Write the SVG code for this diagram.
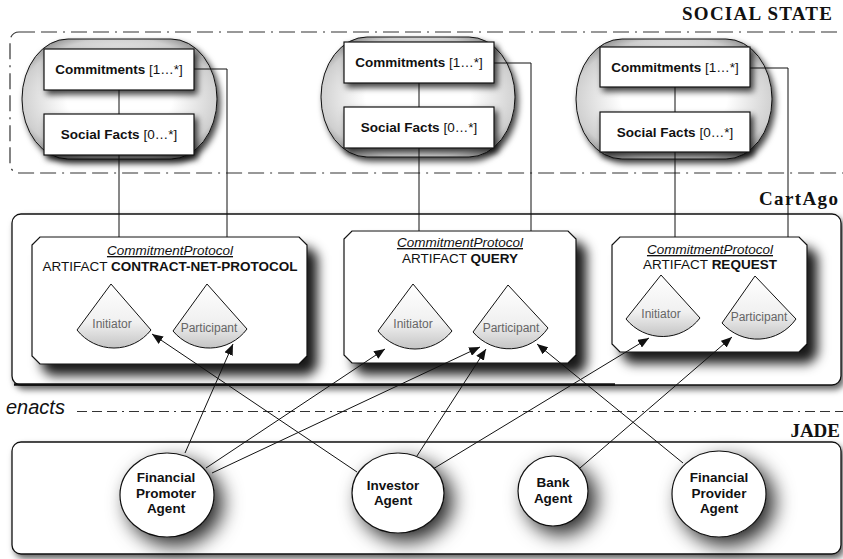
<svg xmlns="http://www.w3.org/2000/svg" width="843" height="559" viewBox="0 0 843 559">
<style>
.hdr{font-family:"Liberation Serif","Times New Roman",serif;font-weight:bold;font-size:19px;fill:#111;text-anchor:end}
.sans{font-family:"Liberation Sans",Arial,sans-serif;fill:#111}
.box{fill:#fff;stroke:#111;stroke-width:1.2}
.lbl{font-family:"Liberation Sans",Arial,sans-serif;font-size:13.5px;text-anchor:middle;fill:#111}
.b{font-weight:bold}
.role{fill:url(#roleGrad);stroke:#111;stroke-width:1}
.rtxt{font-family:"Liberation Sans",Arial,sans-serif;font-size:12px;fill:#666;text-anchor:middle}
.agent{fill:#fff;stroke:#111;stroke-width:1.2}
.atxt{font-family:"Liberation Sans",Arial,sans-serif;font-size:13.5px;font-weight:bold;text-anchor:middle;fill:#111}
.link{fill:none;stroke:#111;stroke-width:1}
.arr{fill:none;stroke:#111;stroke-width:1;marker-end:url(#ah)}
.dd{fill:none;stroke:#333;stroke-width:1.2}
.cont{fill:#fff;stroke:#111;stroke-width:1.3}
</style>
<defs>
<radialGradient id="capGrad" cx="50%" cy="50%" r="60%">
<stop offset="0.45" stop-color="#ffffff"/>
<stop offset="0.85" stop-color="#cfcfcf"/>
<stop offset="1" stop-color="#8a8a8a"/>
</radialGradient>
<linearGradient id="roleGrad" x1="0" y1="0" x2="0" y2="1">
<stop offset="0" stop-color="#ffffff"/>
<stop offset="0.6" stop-color="#f0f0f0"/>
<stop offset="1" stop-color="#c4c4c4"/>
</linearGradient>
<filter id="sh1" x="-20%" y="-20%" width="150%" height="160%">
<feDropShadow dx="3" dy="4" stdDeviation="3" flood-color="#000" flood-opacity="0.75"/>
</filter>
<filter id="sh2" x="-10%" y="-10%" width="135%" height="150%">
<feDropShadow dx="10" dy="11" stdDeviation="6" flood-color="#000" flood-opacity="0.9"/>
</filter>
<filter id="sh3" x="-50%" y="-50%" width="220%" height="220%">
<feDropShadow dx="8" dy="8" stdDeviation="10" flood-color="#000" flood-opacity="0.85"/>
</filter>
<filter id="sh4" x="-5%" y="-10%" width="110%" height="130%">
<feDropShadow dx="3" dy="4" stdDeviation="3" flood-color="#000" flood-opacity="0.6"/>
</filter>
<marker id="ah" markerWidth="11" markerHeight="9" refX="11" refY="4.5" orient="auto" markerUnits="userSpaceOnUse">
<path d="M0,0 L11,4.5 L0,9 z" fill="#111"/>
</marker>
</defs>
<rect width="843" height="559" fill="#fff"/>

<g id="social-state">
<rect x="10" y="32" width="845" height="141" rx="9" class="dd" stroke-dasharray="16 6 16 6 2 6"/>
<text x="832" y="20" class="hdr" textLength="150" lengthAdjust="spacing">SOCIAL STATE</text>
</g>

<g id="cartago">
<rect x="12" y="214" width="829" height="171" rx="9" class="cont" filter="url(#sh4)"/>
<line x1="14" y1="384.5" x2="615" y2="384.5" stroke="#111" stroke-width="2.5"/>
<text x="838" y="205" class="hdr" textLength="79" lengthAdjust="spacing">CartAgo</text>
</g>

<g id="enacts">
<text x="6" y="414" class="sans" font-size="20" font-style="italic">enacts</text>
<line x1="77" y1="411.5" x2="843" y2="411.5" class="dd" stroke-dasharray="10 5 10 5 10 5 2 5"/>
</g>

<g id="jade">
<rect x="12" y="442" width="829" height="112" rx="9" class="cont" filter="url(#sh4)"/>
<text x="840" y="437" class="hdr">JADE</text>
</g>

<g id="state1">
<rect x="22" y="39" width="195" height="120" rx="46" ry="60" fill="url(#capGrad)" stroke="#111" stroke-width="1" filter="url(#sh1)"/>
<rect x="44" y="49" width="150" height="41" class="box" filter="url(#sh1)"/>
<text x="119" y="74" class="lbl"><tspan class="b">Commitments</tspan> [1…*]</text>
<rect x="44" y="114" width="150" height="41" class="box" filter="url(#sh1)"/>
<text x="119" y="139" class="lbl"><tspan class="b">Social Facts</tspan> [0…*]</text>
</g>

<g id="state2">
<rect x="321" y="37" width="194" height="120" rx="46" ry="60" fill="url(#capGrad)" stroke="#111" stroke-width="1" filter="url(#sh1)"/>
<rect x="344" y="42" width="150" height="41" class="box" filter="url(#sh1)"/>
<text x="419" y="67" class="lbl"><tspan class="b">Commitments</tspan> [1…*]</text>
<rect x="344" y="107" width="150" height="41" class="box" filter="url(#sh1)"/>
<text x="419" y="132" class="lbl"><tspan class="b">Social Facts</tspan> [0…*]</text>
</g>

<g id="state3">
<rect x="576" y="39" width="196" height="120" rx="46" ry="60" fill="url(#capGrad)" stroke="#111" stroke-width="1" filter="url(#sh1)"/>
<rect x="600" y="47" width="150" height="40" class="box" filter="url(#sh1)"/>
<text x="675" y="72" class="lbl"><tspan class="b">Commitments</tspan> [1…*]</text>
<rect x="600" y="112" width="150" height="40" class="box" filter="url(#sh1)"/>
<text x="675" y="137" class="lbl"><tspan class="b">Social Facts</tspan> [0…*]</text>
</g>

<g id="artifact-cnp">
<path d="M40,237 L299,237 L307,245 L307,356 L299,364 L40,364 L32,356 L32,245 Z" class="box" filter="url(#sh2)"/>
<text x="170" y="255" class="lbl" font-style="italic" text-decoration="underline">CommitmentProtocol</text>
<text x="170" y="271" class="lbl">ARTIFACT <tspan class="b">CONTRACT-NET-PROTOCOL</tspan></text>
<path d="M111,284 L77,330 A47,47 0 0 0 151,330 Z" class="role"/>
<text x="112" y="328" class="rtxt">Initiator</text>
<path d="M207,284 L173,331 A47,47 0 0 0 247,329 Z" class="role"/>
<text x="209" y="332" class="rtxt">Participant</text>
</g>

<g id="artifact-query">
<path d="M352,231 L568,231 L576,239 L576,355 L568,363 L352,363 L344,355 L344,239 Z" class="box" filter="url(#sh2)"/>
<text x="460" y="247" class="lbl" font-style="italic" text-decoration="underline">CommitmentProtocol</text>
<text x="460" y="263" class="lbl">ARTIFACT <tspan class="b">QUERY</tspan></text>
<path d="M413,284 L378,331 A47,47 0 0 0 452,331 Z" class="role"/>
<text x="413" y="328" class="rtxt">Initiator</text>
<path d="M508,285 L473,332 A47,47 0 0 0 548,328 Z" class="role"/>
<text x="511" y="332" class="rtxt">Participant</text>
</g>

<g id="artifact-request">
<path d="M620,237 L799,237 L807,245 L807,344 L799,352 L620,352 L612,344 L612,245 Z" class="box" filter="url(#sh2)"/>
<text x="710" y="254" class="lbl" font-style="italic" text-decoration="underline">CommitmentProtocol</text>
<text x="710" y="269" class="lbl">ARTIFACT <tspan class="b">REQUEST</tspan></text>
<path d="M661,275 L626,319 A47,47 0 0 0 700,318 Z" class="role"/>
<text x="661" y="318" class="rtxt">Initiator</text>
<path d="M755,276 L722,323 A47,47 0 0 0 796,319 Z" class="role"/>
<text x="759" y="321" class="rtxt">Participant</text>
</g>

<g id="connectors">
<line x1="119" y1="90" x2="119" y2="114" class="link"/>
<line x1="119" y1="155" x2="119" y2="237" class="link"/>
<polyline points="194,69 227,69 227,237" class="link"/>
<line x1="419" y1="83" x2="419" y2="107" class="link"/>
<line x1="419" y1="148" x2="419" y2="231" class="link"/>
<polyline points="494,63 531,63 531,231" class="link"/>
<line x1="675" y1="87" x2="675" y2="112" class="link"/>
<line x1="675" y1="152" x2="675" y2="237" class="link"/>
<polyline points="750,68 788,68 788,237" class="link"/>
<line x1="185" y1="453" x2="233" y2="344" class="arr"/>
<line x1="206" y1="468" x2="385" y2="349" class="arr"/>
<line x1="212" y1="473" x2="480" y2="347" class="arr"/>
<line x1="357" y1="472" x2="152" y2="334" class="arr"/>
<line x1="415" y1="459" x2="486" y2="349" class="arr"/>
<line x1="428" y1="472" x2="649" y2="338" class="arr"/>
<line x1="580" y1="468" x2="732" y2="337" class="arr"/>
<line x1="683" y1="463" x2="537" y2="344" class="arr"/>
</g>

<g id="agent-financial-promoter">
<ellipse cx="167" cy="495" rx="47" ry="42" class="agent" filter="url(#sh3)"/>
<text x="166" y="482" class="atxt">Financial</text>
<text x="166" y="498" class="atxt">Promoter</text>
<text x="166" y="513" class="atxt">Agent</text>
</g>

<g id="agent-investor">
<ellipse cx="398" cy="493" rx="46" ry="40" class="agent" filter="url(#sh3)"/>
<text x="393" y="490" class="atxt">Investor</text>
<text x="393" y="505" class="atxt">Agent</text>
</g>

<g id="agent-bank">
<ellipse cx="553" cy="491" rx="35" ry="35" class="agent" filter="url(#sh3)"/>
<text x="553" y="487" class="atxt">Bank</text>
<text x="553" y="503" class="atxt">Agent</text>
</g>

<g id="agent-financial-provider">
<ellipse cx="719" cy="494" rx="47" ry="43" class="agent" filter="url(#sh3)"/>
<text x="719" y="482" class="atxt">Financial</text>
<text x="719" y="498" class="atxt">Provider</text>
<text x="719" y="513" class="atxt">Agent</text>
</g>
</svg>
